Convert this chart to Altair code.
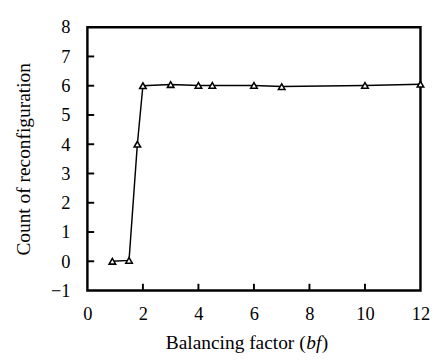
import altair as alt
import pandas as pd

bf = [0.9, 1.5, 1.8, 2.0, 3.0, 4.0, 4.5, 6.0, 7.0, 10.0, 12.0]
count = [0.0, 0.03, 4.0, 6.0, 6.04, 6.01, 6.01, 6.01, 5.97, 6.01, 6.05]
x_ticks = [2, 4, 6, 8, 10]
y_ticks = [0, 1, 2, 3, 4, 5, 6, 7]
x_labels = [0, 2, 4, 6, 8, 10, 12]
y_labels = [-1, 0, 1, 2, 3, 4, 5, 6, 7, 8]

W, H = 344, 272
FONT = "Liberation Serif"

df = pd.DataFrame({"bf": bf, "count": count})
xs = alt.Scale(domain=[0, 12], nice=False, zero=False)
ys = alt.Scale(domain=[-1, 8], nice=False, zero=False)

x_axis = alt.Axis(values=x_labels, ticks=False, domain=False, grid=False,
                  labelFont=FONT, labelFontSize=19, labelColor="black",
                  labelPadding=15, title=None, labelFlush=False)
y_axis = alt.Axis(values=y_labels, ticks=False, domain=False, grid=False,
                  labelFont=FONT, labelFontSize=19, labelColor="black",
                  labelPadding=18, title="Count of reconfiguration",
                  titleFont=FONT, titleFontSize=20, titleFontWeight="normal",
                  titleColor="black", titlePadding=18, labelFlush=False)

base = alt.Chart(df)
line = base.mark_line(color="black", strokeWidth=1.5).encode(
    x=alt.X("bf:Q", scale=xs, axis=x_axis),
    y=alt.Y("count:Q", scale=ys, axis=y_axis),
)
pts = base.mark_point(shape="triangle-up", filled=True, fill="white",
                      stroke="black", strokeWidth=1.6, size=45, opacity=1).encode(
    x=alt.X("bf:Q", scale=xs, axis=x_axis),
    y=alt.Y("count:Q", scale=ys, axis=y_axis),
)

xt = alt.Chart(pd.DataFrame({"t": x_ticks})).mark_rule(color="black", strokeWidth=2).encode(
    x=alt.X("t:Q", scale=xs, axis=x_axis),
    y=alt.value(H), y2=alt.value(H - 7),
)
yt = alt.Chart(pd.DataFrame({"t": y_ticks})).mark_rule(color="black", strokeWidth=2).encode(
    y=alt.Y("t:Q", scale=ys, axis=y_axis),
    x=alt.value(0), x2=alt.value(7),
)

TY = 326
t1 = alt.Chart(pd.DataFrame({"s": ["Balancing factor ("]})).mark_text(
    font=FONT, fontSize=20, align="left", color="black"
).encode(text="s:N", x=alt.value(81), y=alt.value(TY))
t2 = alt.Chart(pd.DataFrame({"s": ["bf"]})).mark_text(
    font=FONT, fontSize=20, fontStyle="italic", align="left", color="black"
).encode(text="s:N", x=alt.value(226), y=alt.value(TY))
t3 = alt.Chart(pd.DataFrame({"s": [")"]})).mark_text(
    font=FONT, fontSize=20, align="left", color="black"
).encode(text="s:N", x=alt.value(242), y=alt.value(TY))

chart = alt.layer(line, pts, xt, yt, t1, t2, t3).properties(
    width=W, height=H,
).configure_view(stroke="black", strokeWidth=2.5)

chart.save("out.html", embed_options={"renderer": "svg", "actions": False})
